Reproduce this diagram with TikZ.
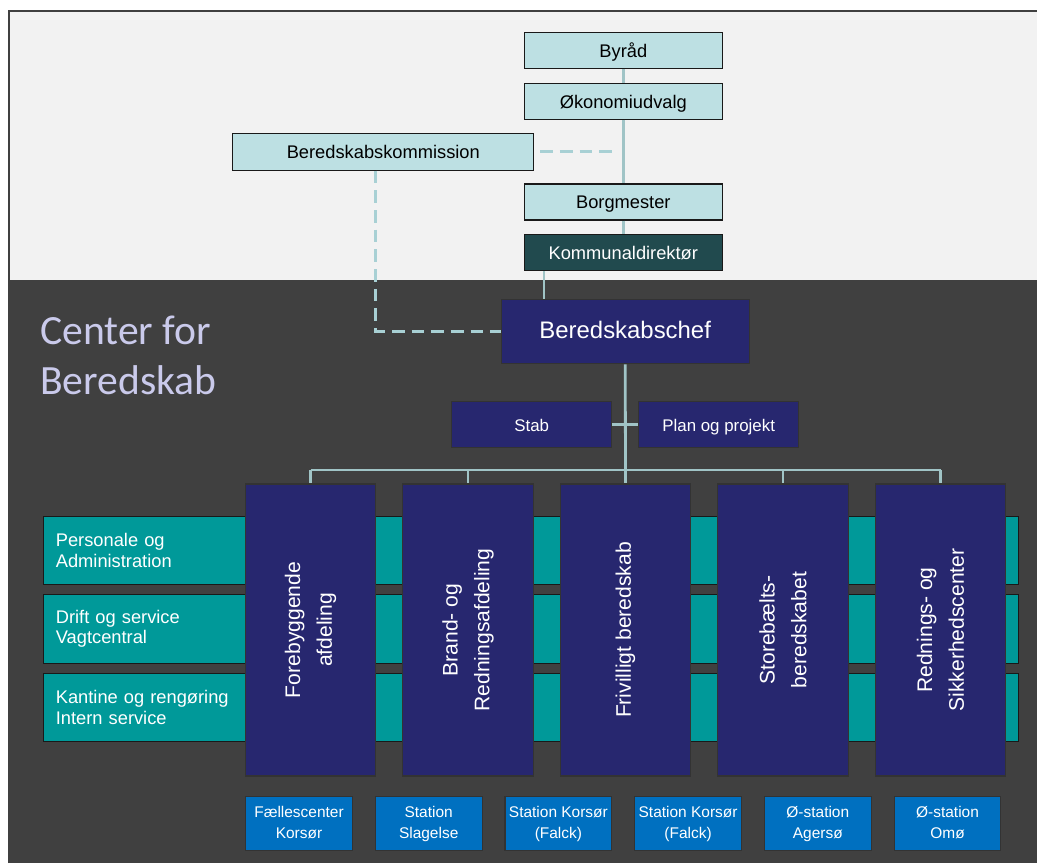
\documentclass[tikz,border=0pt]{standalone}
\usepackage{fontspec}
\setmainfont{Liberation Sans}
\newfontfamily\titlefont{Carlito}
\usepackage{xcolor}
\definecolor{lightbg}{HTML}{F2F2F2}
\definecolor{darkbg}{HTML}{404040}
\definecolor{palebox}{HTML}{BDE0E3}
\definecolor{deepteal}{HTML}{214A4E}
\definecolor{navy}{HTML}{27276F}
\definecolor{sectionteal}{HTML}{009999}
\definecolor{stationblue}{HTML}{0070C0}
\definecolor{connline}{HTML}{A0C4C6}
\definecolor{dashline}{HTML}{A8D0D4}
\definecolor{lavender}{HTML}{CACAEB}
\usetikzlibrary{backgrounds}
\tikzset{
    council/.style = {
      draw=black!90,
      line width=0.8pt,
      fill=palebox,
      minimum width=4.94cm,
      minimum height=0.9cm,
      text height=1.1em,
      text depth=0.12em,
      font=\fontsize{13}{15.6}\selectfont
    },
    chief/.style = {
      draw=black!80,
      line width=0.8pt,
      fill=navy,
      text=white,
      minimum width=6.2cm,
      minimum height=1.62cm,
      text height=1.1em,
      text depth=0.12em,
      font=\fontsize{17}{20}\selectfont
    },
    staff/.style = {
      draw=black!80,
      line width=0.8pt,
      fill=navy,
      text=white,
      minimum width=4cm,
      minimum height=1.15cm,
      text height=1.1em,
      text depth=0.12em,
      font=\fontsize{12}{14}\selectfont
    },
    dept/.style = {
      draw=black!80,
      line width=0.8pt,
      fill=navy,
      text=white,
      rotate=90,
      align=center,
      minimum width=7.3cm,
      minimum height=3.26cm,
      font=\fontsize{15}{22.5}\selectfont
    },
    section/.style = {
      draw=black!90,
      line width=0.8pt,
      fill=sectionteal,
      text=white,
      text width=23.75cm,
      inner xsep=0.3cm,
      align=left,
      minimum height=1.72cm,
      font=\fontsize{13}{14.4}\selectfont
    },
    station/.style = {
      draw=black!80,
      line width=0.8pt,
      fill=stationblue,
      text=white,
      align=center,
      inner sep=1pt,
      minimum width=2.67cm,
      minimum height=1.34cm,
      font=\fontsize{11}{15.4}\selectfont
    },
    heading/.style = {
      text=lavender,
      align=left,
      inner sep=0pt,
      font=\titlefont\fontsize{29.6}{35.6}\selectfont
    },
    conn/.style = {
      draw=connline,
      line width=2pt
    },
    dashlink/.style = {
      draw=dashline,
      line width=2pt,
      dash pattern=on 9pt off 5pt
    }
}

\begin{document}
\begin{tikzpicture}[x=0.025cm, y=-0.025cm]
  \useasboundingbox (0,0) rectangle (1037,863);

  % background
  \fill[lightbg] (9,11) rectangle (1037,280);
  \fill[darkbg] (9,280) rectangle (1037,863);
  \draw[darkbg, line width=1.5pt] (9,863) |- (1037,11);

  \node[heading, anchor=west] (H) at (40,355) {Center for\\Beredskab};

  % political top
  \node[council] (BR) at (623.3, 50.3) {Byråd};
  \node[council] (OU) at (623.3,101.2) {Økonomiudvalg};
  \node[council, minimum width=7.52cm, minimum height=0.92cm] (BK) at (383.3,151.7) {Beredskabskommission};
  \node[council] (BM) at (623.3,202.0) {Borgmester};
  \node[council, fill=deepteal, text=white] (KD) at (623.3,252.8) {Kommunaldirektør};

  \node[chief] (BC) at (625.2,331.5) {Beredskabschef};
  \node[staff] (ST) at (531.7,424.2) {Stab};
  \node[staff] (PP) at (718.7,424.2) {Plan og projekt};

  % sections
  \node[section] (S1) at (531,550.5) {Personale og\\Administration};
  \node[section] (S2) at (531,629.0) {Drift og service\\Vagtcentral};
  \node[section] (S3) at (531,707.5) {Kantine og rengøring\\Intern service};

  % departments
  \foreach \name/\txt [count=\i from 0] in {D1/{Forebyggende\\afdeling},
      D2/{Brand- og\\Redningsafdeling}, D3/{Frivilligt beredskab},
      D4/{Storebælts-\\beredskabet}, D5/{Rednings- og\\Sikkerhedscenter}}
    \node[dept] (\name) at (310.5+157.5*\i,630) {\txt};

  % stations
  \foreach \name/\txt [count=\i from 0] in {F1/{\strut Fællescenter\\\strut Korsør},
      F2/{\strut Station\\\strut Slagelse}, F3/{\strut Station Korsør\\\strut (Falck)},
      F4/{\strut Station Korsør\\\strut (Falck)}, F5/{\strut Ø-station\\\strut Agersø},
      F6/{\strut Ø-station\\\strut Omø}}
    \node[station] (\name) at (299+129.7*\i,823.5) {\txt};

  % lines
  \draw[conn] (BR) -- (OU);
  \draw[conn] (OU) -- (BM);
  \draw[conn] (BM) -- (KD);
  \path ([xshift=0.5cm]KD.south west) coordinate (kd);
  \draw[conn] (kd) -- (kd |- BC.north);
  \draw[dashlink] ([xshift=0.15cm]BK.east) -- ([xshift=-0.2cm]BK.east -| OU.south);
  \path ([xshift=-0.19cm]BK.south) coordinate (bk);
  \draw[dashlink] (bk) |- (BC.west);

  \coordinate (bus) at (625.5,470);
  \draw[conn] (BC.south) -- (bus);
  \draw[conn] (ST.east) -- (PP.west);
  \draw[conn] (D1.east |- bus) -- (D5.east |- bus);
  \foreach \d in {D1,D2,D3,D4,D5}
    \draw[conn] (\d.east |- bus) -- (\d.east);
\end{tikzpicture}
\end{document}
